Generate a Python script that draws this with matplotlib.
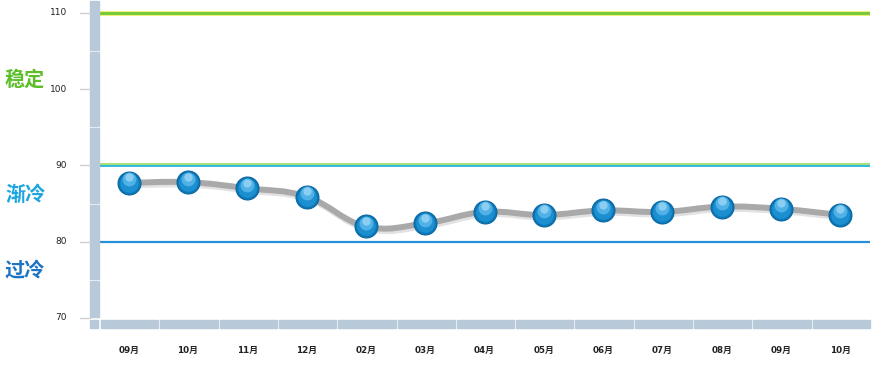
import numpy as np
import matplotlib
matplotlib.use('Agg')
import matplotlib.pyplot as plt
from matplotlib.patches import Rectangle, PathPatch
from matplotlib.path import Path
from matplotlib import transforms

plt.rcParams['font.family'] = ['DejaVu Sans', 'Noto Sans CJK SC']

months = ['09月', '10月', '11月', '12月', '02月', '03月', '04月', '05月', '06月', '07月', '08月', '09月', '10月']
values = [87.7, 87.8, 87.0, 85.9, 82.0, 82.4, 83.9, 83.5, 84.1, 83.9, 84.6, 84.3, 83.5]
y_ticks = [70, 80, 90, 100, 110]
zones = [('稳定', 101.2, '#5cbf2a'), ('渐冷', 86.1, '#1ea6e0'), ('过冷', 76.0, '#1c74c2')]

W, H = 892, 369
fig = plt.figure(figsize=(W / 100, H / 100), dpi=100)
# axes spans pixel x 99..870, y 0..318 (value 70 at bottom)
ax = fig.add_axes([99 / W, (H - 318) / H, (870 - 99) / W, 318 / H])
ax.set_xlim(-0.5, len(months) - 0.5)
px = 7.63  # pixels per unit
ax.set_ylim(70, 70 + 318 / px)
ax.axis('off')

def fx(p):
    return p / W

def fy(p):
    return (H - p) / H

band = '#b8c9da'
# left vertical bar with white gaps every 5 units
edges = sorted(set([0, 318] + [318 - (v - 70) * px for v in [105, 95, 85, 75]]))
for a, b in zip(edges[:-1], edges[1:]):
    fig.patches.append(Rectangle((fx(90), fy(b - 1)), 9 / W, (b - a - 2) / H,
                                 transform=fig.transFigure, color=band, zorder=0))
fig.patches.append(Rectangle((fx(90), fy(328)), 8 / W, 8 / H,
                             transform=fig.transFigure, color=band, zorder=0))
# bottom band segments per category
step = (870 - 99) / len(months)
for i in range(len(months)):
    x0 = 101 + i * step
    fig.patches.append(Rectangle((fx(x0), fy(328)), (step - 2) / W, 8 / H,
                                 transform=fig.transFigure, color=band, zorder=0))

# tick marks and labels
for v in y_ticks:
    yp = 318 - (v - 70) * px
    fig.lines.append(plt.Line2D([fx(80), fx(90)], [fy(yp), fy(yp)],
                                transform=fig.transFigure, color='#d0d0d0', lw=1))
    fig.text(fx(67), fy(yp), str(v), ha='right', va='center', fontsize=6.5, color='#222222')

for i, m in enumerate(months):
    ax.text(i, 70 - 32 / px, m, ha='center', va='center', fontsize=6.3,
            fontweight='bold', color='#222222', clip_on=False)

for name, v, c in zones:
    fig.text(fx(5), fy(318 - (v - 70) * px), name, ha='left', va='center',
             fontsize=14.5, fontweight='bold', color=c)

# reference lines
ax.axhline(110, color='#e8ee60', lw=3.4, zorder=2)
ax.axhline(110 - 0.06, color='#72c83a', lw=2.0, zorder=2)
ax.axhline(90 + 0.12, color='#a6e07a', lw=2.2, zorder=2)
ax.axhline(89.98, color='#23b4e2', lw=1.3, zorder=2)
ax.axhline(80, color='#2590d8', lw=1.6, zorder=2)

# smooth line through the points (Catmull-Rom bezier)
xs = np.arange(len(values), dtype=float)
ys = np.array(values)
verts = [(xs[0], ys[0])]
codes = [Path.MOVETO]
t = 0.2
for i in range(len(xs) - 1):
    p0 = np.array([xs[max(i - 1, 0)], ys[max(i - 1, 0)]])
    p1 = np.array([xs[i], ys[i]])
    p2 = np.array([xs[i + 1], ys[i + 1]])
    p3 = np.array([xs[min(i + 2, len(xs) - 1)], ys[min(i + 2, len(xs) - 1)]])
    c1 = p1 + (p2 - p0) * t
    c2 = p2 - (p3 - p1) * t
    verts += [tuple(c1), tuple(c2), tuple(p2)]
    codes += [Path.CURVE4] * 3
path = Path(verts, codes)
shadow = transforms.offset_copy(ax.transData, fig=fig, x=1.5, y=-2, units='dots')
ax.add_patch(PathPatch(path, fill=False, edgecolor='#e2e2e2', lw=5, transform=shadow, zorder=3))
ax.add_patch(PathPatch(path, fill=False, edgecolor='#a9a9a9', lw=4.3, zorder=4,
                       capstyle='round', joinstyle='round'))

# glossy markers
ax.plot(xs, ys, 'o', ms=16.5, color='#0c78b8', mec='#0a66a0', mew=0.8, zorder=5)
ax.plot(xs, ys, 'o', ms=13.5, color='#1c8fd0', mec='none', zorder=6)
hl = transforms.offset_copy(ax.transData, fig=fig, x=0, y=3.5, units='dots')
ax.plot(xs, ys, marker='o', ls='none', ms=10, color='#5ab8ea', mec='none',
        alpha=0.85, transform=hl, zorder=7)
hl2 = transforms.offset_copy(ax.transData, fig=fig, x=0, y=5.5, units='dots')
ax.plot(xs, ys, marker='o', ls='none', ms=6, color='#9ad6f5', mec='none',
        alpha=0.8, transform=hl2, zorder=8)

fig.savefig('out.png', dpi=100)
